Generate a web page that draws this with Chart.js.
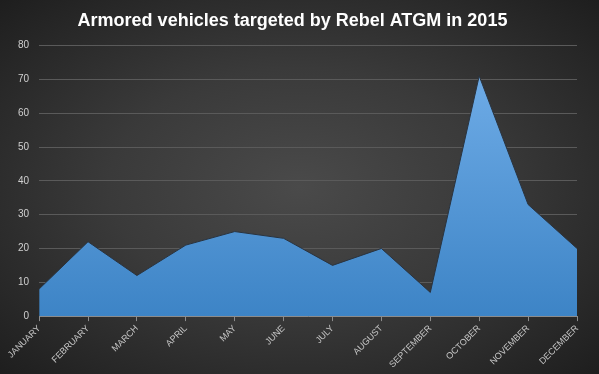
<!DOCTYPE html>
<html>
<head>
<meta charset="utf-8">
<script src="https://cdn.jsdelivr.net/npm/chart.js@4"></script>
<style>
html,body{margin:0;padding:0;}
#wrap{
width:599px;height:374px;
background:radial-gradient(ellipse at 50% 50%, #4a4a4a 0%, #3a3a3a 45%, #1e1e1e 100%);
}
</style>
</head>
<body>
<div id="wrap"><canvas id="chartCanvas" width="599" height="374"></canvas></div>
<script>

const months=["JANUARY","FEBRUARY","MARCH","APRIL","MAY","JUNE","JULY","AUGUST","SEPTEMBER","OCTOBER","NOVEMBER","DECEMBER"];

const vehicles=[8,22,12,21,25,23,15,20,7,71,33,20];

const yTicks=[0,10,20,30,40,50,60,70,80];

const ctx=document.getElementById("chartCanvas");

function areaFill(context){

const area=context.chart.chartArea;

if(!area){
return "#4a8fd4";
}

const g=context.chart.ctx.createLinearGradient(0,area.top,0,area.bottom);
g.addColorStop(0,"#74b0ea");
g.addColorStop(1,"#3d84c6");
return g;

}

new Chart(ctx,{

type:"line",

data:{

labels:months,

datasets:[{
data:vehicles,
fill:"origin",
backgroundColor:areaFill,
borderColor:"#2a3440",
borderWidth:1,
pointRadius:0,
tension:0
}]

},

options:{

responsive:false,
animation:false,

layout:{
padding:{left:8,right:22,top:4,bottom:2}
},

plugins:{
legend:{display:false},
tooltip:{enabled:false},
title:{
display:true,
text:"Armored vehicles targeted by Rebel ATGM in 2015",
color:"#ffffff",
font:{family:"Liberation Sans",size:18,weight:"bold"},
padding:{top:6,bottom:14}
}
},

scales:{

x:{
offset:false,
grid:{
display:true,
drawOnChartArea:false,
drawTicks:true,
tickLength:5,
color:"#8c8c8c"
},
border:{display:true,color:"#8c8c8c"},
ticks:{
color:"#c8c8c8",
font:{family:"Liberation Sans",size:9},
minRotation:45,
maxRotation:45,
padding:2
}
},

y:{
min:0,
max:80,
afterBuildTicks:function(axis){
axis.ticks=yTicks.map(v=>({value:v}));
},
grid:{
color:"#5a5a5a",
drawTicks:false
},
border:{display:false},
ticks:{
color:"#d0d0d0",
font:{family:"Liberation Sans",size:10},
padding:10
}
}

}

}

});

</script>
</body>
</html>
